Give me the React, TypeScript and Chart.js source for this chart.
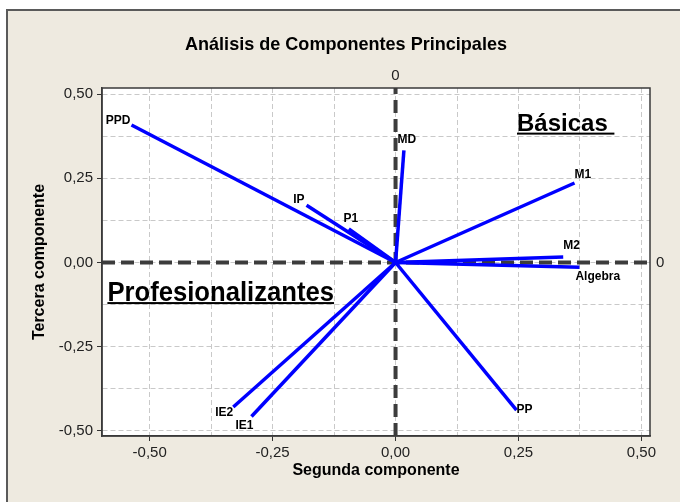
import React, { useEffect, useRef } from 'react';
import { Chart, registerables } from 'chart.js';

Chart.register(...registerables);

// ---- data ----
const variables = ['PPD', 'IP', 'P1', 'MD', 'M1', 'M2', 'Algebra', 'PP', 'IE2', 'IE1'];
const segundaComponente = [-0.537, -0.181, -0.095, 0.017, 0.364, 0.341, 0.374, 0.246, -0.33, -0.293];
const terceraComponente = [0.408, 0.17, 0.1, 0.333, 0.236, 0.016, -0.014, -0.438, -0.429, -0.457];
const gridValues = [-0.5, -0.375, -0.25, -0.125, 0, 0.125, 0.25, 0.375, 0.5];
const xRange = [-0.597, 0.5175];
const yRange = [-0.515, 0.518];
const chartTitle = 'Análisis de Componentes Principales';
const xTitle = 'Segunda componente';
const yTitle = 'Tercera componente';
const groupNames = ['Básicas', 'Profesionalizantes'];
const groupAnchors = [
  { x: 0.247, y: 0.39 },
  { x: -0.586, y: -0.113 },
];

// label placement (pixel offsets from each vector's end)
const labelPlacement: { align: CanvasTextAlign; dx: number; dy: number }[] = [
  { align: 'right', dx: -1, dy: -4 },
  { align: 'right', dx: -2, dy: -6 },
  { align: 'center', dx: 2, dy: -10 },
  { align: 'center', dx: 3, dy: -11 },
  { align: 'left', dx: 0, dy: -8 },
  { align: 'left', dx: 0, dy: -11 },
  { align: 'left', dx: -4, dy: 9 },
  { align: 'left', dx: 0, dy: 0 },
  { align: 'right', dx: 0, dy: 6 },
  { align: 'center', dx: -7, dy: 9 },
];

const FONT = "'Liberation Sans', Arial, sans-serif";
const BEIGE = '#EEEAE0';
const isMajor = (v: number) => Math.abs(v * 4 - Math.round(v * 4)) < 1e-6;
const fmt = (v: number) => v.toFixed(2).replace('.', ',');

function condensedText(ctx: CanvasRenderingContext2D, text: string, x: number, y: number, sx: number) {
  ctx.save();
  ctx.translate(x, y);
  ctx.scale(sx, 1);
  ctx.fillText(text, 0, 0);
  ctx.restore();
}

const decorPlugin = {
  id: 'decor',
  beforeDraw(chart: any) {
    const { ctx, width, height, chartArea: a } = chart;
    ctx.save();
    ctx.fillStyle = '#ffffff';
    ctx.fillRect(0, 0, width, height);
    ctx.fillStyle = BEIGE;
    ctx.fillRect(7, 10, width, height);
    ctx.strokeStyle = '#5a5a5a';
    ctx.lineWidth = 2;
    ctx.strokeRect(7, 10, width + 20, height + 20);
    ctx.fillStyle = '#ffffff';
    ctx.fillRect(a.left, a.top, a.right - a.left, a.bottom - a.top);
    ctx.restore();
  },
  afterDatasetsDraw(chart: any) {
    const { ctx, scales } = chart;
    const xs = scales.x;
    const ys = scales.y;
    ctx.save();
    ctx.fillStyle = '#000';
    ctx.font = `bold 12px ${FONT}`;
    ctx.textBaseline = 'middle';
    variables.forEach((name, i) => {
      const px = xs.getPixelForValue(segundaComponente[i]);
      const py = ys.getPixelForValue(terceraComponente[i]);
      const p = labelPlacement[i];
      ctx.textAlign = p.align;
      ctx.fillText(name, px + p.dx, py + p.dy);
    });
    // group annotations
    const sizes = [24, 27];
    const squeeze = [1, 0.95];
    groupNames.forEach((g, i) => {
      const px = xs.getPixelForValue(groupAnchors[i].x);
      const py = ys.getPixelForValue(groupAnchors[i].y);
      ctx.font = `bold ${sizes[i]}px ${FONT}`;
      ctx.textAlign = 'left';
      ctx.textBaseline = 'alphabetic';
      ctx.fillStyle = '#000';
      condensedText(ctx, g, px, py, squeeze[i]);
      const w = ctx.measureText(i === 0 ? g + ' ' : g).width * squeeze[i];
      ctx.fillRect(px, py + 1.5, w, 2);
    });
    ctx.restore();
  },
  afterDraw(chart: any) {
    const { ctx, chartArea: a, scales } = chart;
    ctx.save();
    ctx.strokeStyle = '#3a3a3a';
    ctx.lineWidth = 1.5;
    ctx.strokeRect(a.left, a.top, a.right - a.left, a.bottom - a.top);
    ctx.fillStyle = '#000';
    ctx.textAlign = 'center';
    ctx.textBaseline = 'middle';
    ctx.font = `bold 19px ${FONT}`;
    condensedText(ctx, chartTitle, 346, 45, 0.95);
    ctx.font = `bold 16px ${FONT}`;
    ctx.fillText(xTitle, (a.left + a.right) / 2, 471);
    ctx.save();
    ctx.translate(40, (a.top + a.bottom) / 2);
    ctx.rotate(-Math.PI / 2);
    ctx.fillText(yTitle, 0, 0);
    ctx.restore();
    // zero reference labels
    ctx.font = `15px ${FONT}`;
    ctx.fillStyle = '#222';
    ctx.fillText('0', scales.x.getPixelForValue(0), 76);
    ctx.textAlign = 'left';
    ctx.fillText('0', a.right + 6, scales.y.getPixelForValue(0));
    ctx.restore();
  },
};

function axis(extra: any) {
  return {
    type: 'linear',
    afterBuildTicks: (s: any) => {
      s.ticks = gridValues.map((v) => ({ value: v }));
    },
    grid: {
      color: '#c9c9c9',
      lineWidth: 1,
      tickLength: 5,
      tickWidth: 1,
      tickBorderDash: [],
      tickColor: (c: any) => (c.tick && isMajor(c.tick.value) ? '#333' : 'rgba(0,0,0,0)'),
    },
    border: { color: '#3a3a3a', width: 1.5, dash: [5, 3] },
    ...extra,
  };
}

export default function App() {
  const ref = useRef<HTMLCanvasElement>(null);
  useEffect(() => {
    if (!ref.current) return;
    const vectors = variables.map((name, i) => ({
      label: name,
      data: [
        { x: 0, y: 0 },
        { x: segundaComponente[i], y: terceraComponente[i] },
      ],
      showLine: true,
      borderColor: '#0000ff',
      backgroundColor: '#0000ff',
      borderWidth: 3.5,
      pointRadius: 0,
      order: 0,
    }));
    const zeroLines = [
      [
        { x: xRange[0], y: 0 },
        { x: xRange[1], y: 0 },
      ],
      [
        { x: 0, y: yRange[0] },
        { x: 0, y: yRange[1] },
      ],
    ].map((d) => ({
      label: 'ref',
      data: d,
      showLine: true,
      borderColor: '#3c3c3c',
      borderWidth: 4,
      borderDash: [13, 6],
      pointRadius: 0,
      order: 1,
    }));
    const tickFont = { family: FONT, size: 15 };
    const cb = (v: any) => (isMajor(Number(v)) ? fmt(Number(v)) : '');
    const chart = new Chart(ref.current, {
      type: 'scatter',
      data: { datasets: [...vectors, ...zeroLines] as any },
      options: {
        animation: false,
        responsive: false,
        devicePixelRatio: 1,
        layout: { padding: { left: 0, top: 88, right: 30, bottom: 0 } },
        plugins: { legend: { display: false }, tooltip: { enabled: false }, title: { display: false } },
        scales: {
          x: axis({
            min: xRange[0],
            max: xRange[1],
            ticks: { autoSkip: false, maxRotation: 0, color: '#222', padding: 3, font: tickFont, callback: cb },
            afterFit: (s: any) => {
              s.height = 66;
            },
          }),
          y: axis({
            min: yRange[0],
            max: yRange[1],
            ticks: { autoSkip: false, color: '#222', padding: 4, font: tickFont, callback: cb },
            afterFit: (s: any) => {
              s.width = 102;
            },
          }),
        } as any,
      },
      plugins: [decorPlugin],
    });
    return () => chart.destroy();
  }, []);
  return (
    <div style={{ position: 'absolute', left: 0, top: 0, width: 680, height: 502 }}>
      <canvas ref={ref} width={680} height={502} style={{ display: 'block' }} />
    </div>
  );
}
